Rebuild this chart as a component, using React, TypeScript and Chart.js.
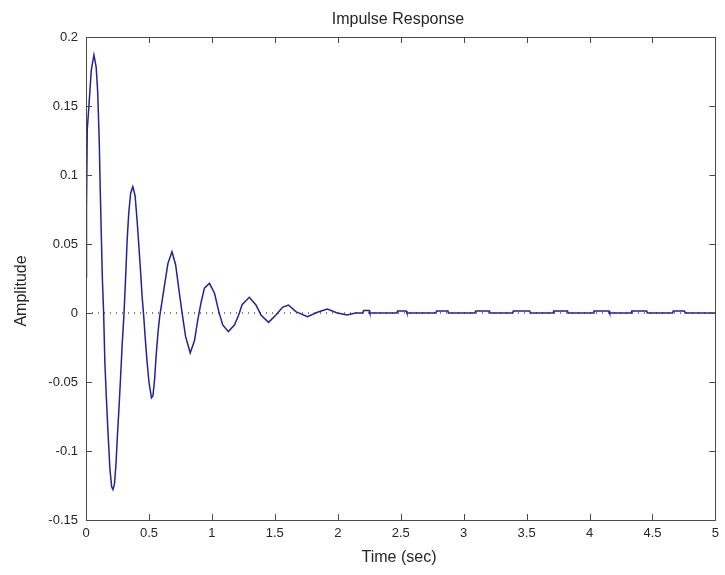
import { useEffect, useRef } from "react";
import { Chart, registerables } from "chart.js";

Chart.register(...registerables);

// Oscillating part of the impulse response (time in s, amplitude)
const ringT = [
  0.0, 0.004, 0.01, 0.024, 0.042, 0.063, 0.081, 0.093, 0.105, 0.113, 0.122, 0.13, 0.14,
  0.15, 0.162, 0.175, 0.19, 0.204, 0.214, 0.226, 0.238, 0.25, 0.262, 0.275, 0.288, 0.301,
  0.314, 0.327, 0.34, 0.355, 0.372, 0.39, 0.406, 0.419, 0.433, 0.445, 0.459, 0.472, 0.485,
  0.5, 0.52, 0.532, 0.545, 0.558, 0.572, 0.586, 0.6, 0.625, 0.651, 0.683, 0.712, 0.738,
  0.765, 0.791, 0.828, 0.862, 0.888, 0.915, 0.941, 0.981, 1.021, 1.055, 1.086, 1.131,
  1.179, 1.213, 1.24, 1.297, 1.35, 1.39, 1.45, 1.509, 1.561, 1.608, 1.667, 1.759, 1.838,
  1.917, 1.996, 2.075, 2.14,
];
const ringV = [
  0.026, 0.075, 0.133, 0.151, 0.176, 0.187, 0.178, 0.16, 0.125, 0.09, 0.055, 0.025, 0.0,
  -0.036, -0.062, -0.087, -0.113, -0.126, -0.128, -0.124, -0.11, -0.088, -0.069, -0.046,
  -0.022, -0.002, 0.024, 0.053, 0.073, 0.087, 0.0915, 0.085, 0.067, 0.05, 0.031, 0.013,
  -0.003, -0.02, -0.035, -0.05, -0.0615, -0.06, -0.048, -0.03, -0.014, -0.002, 0.006,
  0.021, 0.036, 0.0444, 0.035, 0.017, -0.001, -0.017, -0.029, -0.02, -0.005, 0.008, 0.018,
  0.0215, 0.0143, 0.001, -0.0087, -0.0135, -0.0087, -0.0014, 0.006, 0.0114, 0.0058,
  -0.0014, -0.0068, -0.0014, 0.0041, 0.0058, 0.001, -0.0027, 0.0005, 0.0029, 0.0, -0.0014,
  0.0,
];

// Settled tail with its small quantisation bumps
const tailT = [
  2.2, 2.205, 2.25, 2.255,
  2.47, 2.475, 2.545, 2.55,
  2.78, 2.785, 2.875, 2.88,
  3.09, 3.095, 3.205, 3.21,
  3.39, 3.395, 3.525, 3.53,
  3.71, 3.715, 3.825, 3.83,
  4.03, 4.035, 4.155, 4.16,
  4.33, 4.335, 4.455, 4.46,
  4.66, 4.665, 4.755, 4.76,
  5.0,
];
const tailV = [
  0, 0.0018, 0.0018, 0,
  0, 0.0015, 0.0015, 0,
  0, 0.0015, 0.0015, 0,
  0, 0.0015, 0.0015, 0,
  0, 0.0015, 0.0015, 0,
  0, 0.0015, 0.0015, 0,
  0, 0.0015, 0.0015, 0,
  0, 0.0015, 0.0015, 0,
  0, 0.0015, 0.0015, 0,
  0,
];

const xTicks = [0, 0.5, 1, 1.5, 2, 2.5, 3, 3.5, 4, 4.5, 5];
const xTickLabels = ["0", "0.5", "1", "1.5", "2", "2.5", "3", "3.5", "4", "4.5", "5"];
const yTicks = [-0.15, -0.1, -0.05, 0, 0.05, 0.1, 0.15, 0.2];
const yTickLabels = ["-0.15", "-0.1", "-0.05", "0", "0.05", "0.1", "0.15", "0.2"];

const titleText = "Impulse Response";
const xTitle = "Time (sec)";
const yTitle = "Amplitude";

const FONT = "'Liberation Sans', Arial, sans-serif";
const TEXT = "#262626";
const AXIS = "#4a4a4a";

export default function App() {
  const ref = useRef<HTMLCanvasElement | null>(null);

  useEffect(() => {
    if (!ref.current) return;
    const t = [...ringT, ...tailT];
    const v = [...ringV, ...tailV];
    const pts = t.map((x, i) => ({ x, y: v[i] }));

    const frame = {
      id: "frame",
      afterDraw(chart: any) {
        const { ctx, chartArea } = chart;
        const xs = chart.scales.x;
        const ys = chart.scales.y;
        const { left, right, top, bottom } = chartArea;
        ctx.save();
        ctx.strokeStyle = AXIS;
        ctx.lineWidth = 1;
        ctx.beginPath();
        ctx.rect(Math.round(left) + 0.5, Math.round(top) + 0.5, Math.round(right - left), Math.round(bottom - top));
        ctx.stroke();
        const tl = 6;
        ctx.beginPath();
        xTicks.forEach((val) => {
          const px = Math.round(xs.getPixelForValue(val)) + 0.5;
          ctx.moveTo(px, bottom);
          ctx.lineTo(px, bottom - tl);
          ctx.moveTo(px, top);
          ctx.lineTo(px, top + tl);
        });
        yTicks.forEach((val) => {
          const py = Math.round(ys.getPixelForValue(val)) + 0.5;
          ctx.moveTo(left, py);
          ctx.lineTo(left + tl, py);
          ctx.moveTo(right, py);
          ctx.lineTo(right - tl, py);
        });
        ctx.stroke();

        ctx.fillStyle = TEXT;
        ctx.font = `16px ${FONT}`;
        ctx.textAlign = "center";
        ctx.textBaseline = "middle";
        ctx.fillText(titleText, 398, 20);
        ctx.fillText(xTitle, 399, 558);
        ctx.translate(22, 291);
        ctx.rotate(-Math.PI / 2);
        ctx.fillText(yTitle, 0, 0);
        ctx.restore();
      },
    };

    const chart = new Chart(ref.current, {
      type: "line",
      data: {
        datasets: [
          {
            data: pts,
            borderColor: "#22229a",
            borderWidth: 1.5,
            pointRadius: 0,
            tension: 0,
            fill: false,
          },
          {
            data: [
              { x: 0, y: 0 },
              { x: 5, y: 0 },
            ],
            borderColor: "#000000",
            borderWidth: 1,
            borderDash: [1, 5],
            pointRadius: 0,
            fill: false,
          },
        ],
      },
      options: {
        animation: false,
        responsive: false,
        layout: { padding: { top: 37, right: 7, left: 0, bottom: 0 } },
        plugins: {
          legend: { display: false },
          tooltip: { enabled: false },
          title: { display: false },
        },
        scales: {
          x: {
            type: "linear",
            min: 0,
            max: 5,
            grid: { display: false, drawTicks: false },
            border: { display: false },
            afterBuildTicks: (s: any) => {
              s.ticks = xTicks.map((value) => ({ value }));
            },
            afterFit: (s: any) => {
              s.height = 55;
            },
            ticks: {
              padding: 6,
              color: TEXT,
              font: { family: FONT, size: 13 },
              maxRotation: 0,
              autoSkip: false,
              callback: (_val: any, i: number) => xTickLabels[i],
            },
          },
          y: {
            type: "linear",
            min: -0.15,
            max: 0.2,
            grid: { display: false, drawTicks: false },
            border: { display: false },
            afterBuildTicks: (s: any) => {
              s.ticks = yTicks.map((value) => ({ value }));
            },
            afterFit: (s: any) => {
              s.width = 86;
            },
            ticks: {
              padding: 8,
              color: TEXT,
              font: { family: FONT, size: 13 },
              autoSkip: false,
              callback: (_val: any, i: number) => yTickLabels[i],
            },
          },
        },
      },
      plugins: [frame],
    } as any);

    return () => chart.destroy();
  }, []);

  return (
    <div style={{ position: "fixed", left: 0, top: 0, width: 725, height: 575, background: "#ffffff" }}>
      <canvas ref={ref} width={725} height={575} style={{ width: 725, height: 575, display: "block" }} />
    </div>
  );
}
